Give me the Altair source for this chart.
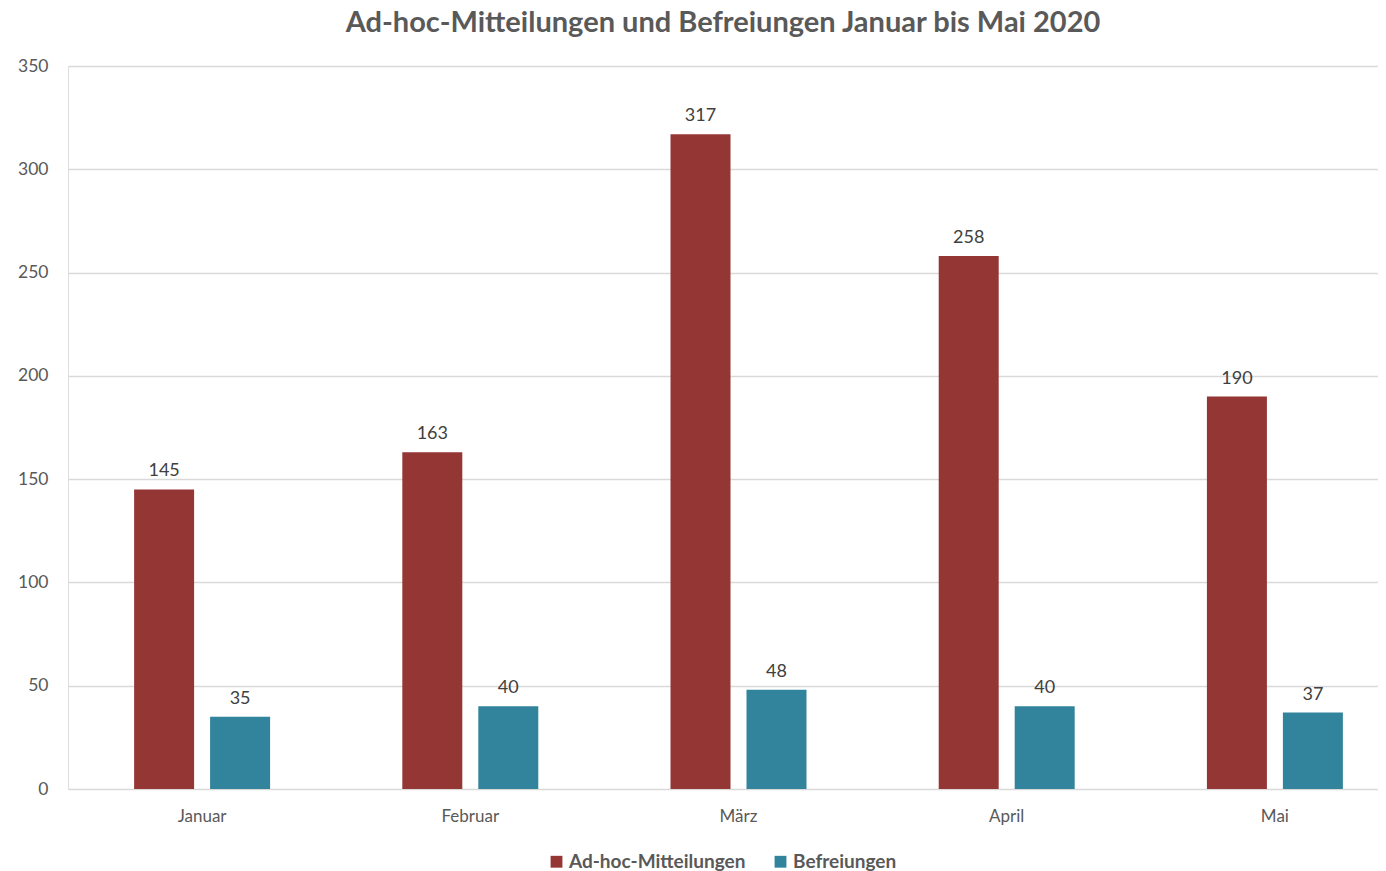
import altair as alt
import pandas as pd

months = ["Januar", "Februar", "März", "April", "Mai"]
series = ["Ad-hoc-Mitteilungen", "Befreiungen"]
adhoc = [145, 163, 317, 258, 190]
befreiungen = [35, 40, 48, 40, 37]
colors = ["#943634", "#31849B"]

rows = []
for m, a, b in zip(months, adhoc, befreiungen):
    rows.append({"Monat": m, "Serie": series[0], "Wert": a})
    rows.append({"Monat": m, "Serie": series[1], "Wert": b})
df = pd.DataFrame(rows)

FONT = "Lato"

x = alt.X("Monat:N", sort=months, title=None,
          scale=alt.Scale(range=[0, 1341], paddingInner=0.493, paddingOuter=0.2465),
          axis=alt.Axis(labelAngle=0, domain=False, ticks=False, labelPadding=19,
                        labelFontSize=17, labelColor="#595959", labelFont=FONT))
xo = alt.XOffset("Serie:N", sort=series, scale=alt.Scale(paddingInner=0.2105, paddingOuter=0))
y = alt.Y("Wert:Q", title=None,
          scale=alt.Scale(domain=[0, 350], nice=False),
          axis=alt.Axis(values=[0, 50, 100, 150, 200, 250, 300, 350], domain=False, ticks=False,
                        labelPadding=20, labelFontSize=17.5, labelColor="#595959", labelFont=FONT,
                        gridColor="#D9D9D9", gridWidth=1.3))

bars = alt.Chart(df).mark_bar().encode(
    x=x, xOffset=xo, y=y,
    color=alt.Color("Serie:N", sort=series,
                    scale=alt.Scale(domain=series, range=colors),
                    legend=alt.Legend(title=None, orient="none", direction="horizontal",
                                      legendX=479, legendY=786, symbolType="square",
                                      symbolSize=140, symbolStrokeWidth=0, labelOffset=3,
                                      labelFontSize=19, labelFontWeight="bold",
                                      labelColor="#595959", labelFont=FONT,
                                      columnPadding=25, labelLimit=400)),
)

labels = alt.Chart(df).mark_text(baseline="bottom", dy=-9, fontSize=18, color="#404040", font=FONT).encode(
    x=x, xOffset=xo, y=y, text=alt.Text("Wert:Q"),
)

chart = (bars + labels).properties(
    width=1310, height=723,
    title=alt.TitleParams("Ad-hoc-Mitteilungen und Befreiungen Januar bis Mai 2020",
                          fontSize=29, fontWeight="bold", color="#595959", font=FONT,
                          anchor="middle", offset=19),
    autosize=alt.AutoSizeParams(type="none"),
    padding={"left": 60, "top": 58, "right": 0, "bottom": 82},
).configure_view(stroke=None).configure(background="white")

chart.save("out.html", embed_options={"renderer": "svg", "actions": False})
